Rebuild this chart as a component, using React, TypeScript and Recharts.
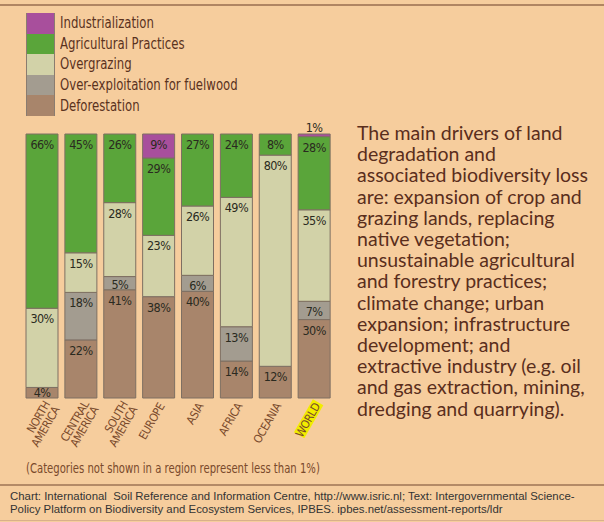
import React from "react";
import { BarChart, Bar, XAxis, YAxis, Legend, LabelList } from "recharts";

const regions = [
  "NORTH AMERICA",
  "CENTRAL AMERICA",
  "SOUTH AMERICA",
  "EUROPE",
  "ASIA",
  "AFRICA",
  "OCEANIA",
  "WORLD",
];
const deforestation = [4, 22, 41, 38, 40, 14, 12, 30];
const fuelwood = [0, 18, 5, 0, 6, 13, 0, 7];
const overgrazing = [30, 15, 28, 23, 26, 49, 80, 35];
const agricultural = [66, 45, 26, 29, 27, 24, 8, 28];
const industrialization = [0, 0, 0, 9, 0, 0, 0, 1];

const legendOrder = [
  "Industrialization",
  "Agricultural Practices",
  "Overgrazing",
  "Over-exploitation for fuelwood",
  "Deforestation",
];

const paragraph = [
  "The main drivers of land",
  "degradation and",
  "associated biodiversity loss",
  "are: expansion of crop and",
  "grazing lands, replacing",
  "native vegetation;",
  "unsustainable agricultural",
  "and forestry practices;",
  "climate change; urban",
  "expansion; infrastructure",
  "development; and",
  "extractive industry (e.g. oil",
  "and gas extraction, mining,",
  "dredging and quarrying).",
];

const data = regions.map((region, i) => ({
  region,
  deforestation: deforestation[i],
  fuelwood: fuelwood[i],
  overgrazing: overgrazing[i],
  agricultural: agricultural[i],
  industrialization: industrialization[i],
}));

const narrow = "'DejaVu Sans Condensed', 'Liberation Sans', sans-serif";
const bg = "#f6cd9d";
const barStroke = "#7e6f62";

const segLabel = (props: any) => {
  const { x, y, width, height, value } = props;
  const v = Array.isArray(value) ? value[1] - value[0] : Number(value);
  if (!v) return null;
  const cx = x + width / 2;
  const by = height < 8 ? y - 2 : y + Math.min(15, height - 1);
  return (
    <text
      x={cx}
      y={by}
      textAnchor="middle"
      fontSize={12.5}
      letterSpacing={-0.6}
      fill="#2a2a20"
      fontFamily={narrow}
    >
      {v}%
    </text>
  );
};

const RegionTick = (props: any) => {
  const { x, y, payload } = props;
  const lines = String(payload.value).split(" ");
  const two = lines.length > 1;
  const ax = x + (two ? 8 : 6);
  const ay = y + (two ? 6 : 8);
  const isWorld = payload.value === "WORLD";
  return (
    <g transform={`translate(${ax},${ay}) rotate(-60)`}>
      {isWorld && <rect x={-36} y={-10} width={38} height={12} fill="#f2ec00" />}
      {lines.map((l, i) => (
        <text
          key={i}
          x={0}
          y={i * 11}
          textAnchor="end"
          fontSize={11.5}
          letterSpacing={-0.4}
          fill="#7a4a2c"
          fontFamily={narrow}
        >
          {l}
        </text>
      ))}
    </g>
  );
};

const LegendBox = (props: any) => {
  const items = [...(props.payload || [])].sort(
    (a: any, b: any) => legendOrder.indexOf(a.value) - legendOrder.indexOf(b.value)
  );
  return (
    <div style={{ height: 121, paddingLeft: 3, boxSizing: "border-box" }}>
      {items.map((it: any) => (
        <div key={it.value} style={{ display: "flex", alignItems: "center", height: 20.6 }}>
          <div
            style={{
              width: 29,
              height: 20.6,
              background: it.color,
              borderLeft: "1px solid #8a7c70",
              borderRight: "1px solid #8a7c70",
              boxSizing: "border-box",
            }}
          />
          <span
            style={{
              marginLeft: 5,
              fontFamily: narrow,
              fontSize: 15.5,
              color: "#5a321e",
              lineHeight: "20px",
              display: "inline-block",
              whiteSpace: "nowrap",
              transform: "scaleX(0.84)",
              transformOrigin: "left center",
            }}
          >
            {it.value}
          </span>
        </div>
      ))}
    </div>
  );
};

export default function App() {
  return (
    <div
      style={{
        position: "absolute",
        left: 0,
        top: 0,
        width: 604,
        height: 522,
        background: bg,
        overflow: "hidden",
      }}
    >
      <div style={{ position: "absolute", left: 0, top: 4, width: 604, height: 2, background: "#b08562" }} />
      <div style={{ position: "absolute", left: 0, top: 0 }}>
        <BarChart
          width={340}
          height={480}
          data={data}
          stackOffset="expand"
          barSize={32}
          margin={{ top: 13, right: 6, bottom: 0, left: 23 }}
        >
          <XAxis
            dataKey="region"
            interval={0}
            axisLine={false}
            tickLine={false}
            tickSize={0}
            tickMargin={0}
            height={82}
            tick={<RegionTick />}
          />
          <YAxis hide domain={[0, 1]} />
          <Legend verticalAlign="top" align="left" content={<LegendBox />} />
          <Bar dataKey="deforestation" name="Deforestation" stackId="a" fill="#a8856b" stroke={barStroke} isAnimationActive={false}>
            <LabelList dataKey="deforestation" content={segLabel} />
          </Bar>
          <Bar dataKey="fuelwood" name="Over-exploitation for fuelwood" stackId="a" fill="#a39c90" stroke={barStroke} isAnimationActive={false}>
            <LabelList dataKey="fuelwood" content={segLabel} />
          </Bar>
          <Bar dataKey="overgrazing" name="Overgrazing" stackId="a" fill="#d2d2a8" stroke={barStroke} isAnimationActive={false}>
            <LabelList dataKey="overgrazing" content={segLabel} />
          </Bar>
          <Bar dataKey="agricultural" name="Agricultural Practices" stackId="a" fill="#5aa53a" stroke={barStroke} isAnimationActive={false}>
            <LabelList dataKey="agricultural" content={segLabel} />
          </Bar>
          <Bar dataKey="industrialization" name="Industrialization" stackId="a" fill="#a84f9c" stroke={barStroke} isAnimationActive={false}>
            <LabelList dataKey="industrialization" content={segLabel} />
          </Bar>
        </BarChart>
      </div>
      <div
        style={{
          position: "absolute",
          left: 26,
          top: 460,
          fontFamily: narrow,
          fontSize: 14,
          color: "#7a4a2c",
          whiteSpace: "nowrap",
          transform: "scaleX(0.8)",
          transformOrigin: "left center",
        }}
      >
        (Categories not shown in a region represent less than 1%)
      </div>
      <div
        style={{
          position: "absolute",
          left: 357,
          top: 122,
          fontFamily: "Lato, sans-serif",
          fontSize: 19.5,
          lineHeight: "21.2px",
          color: "#5a2e1c",
          whiteSpace: "nowrap",
        }}
      >
        {paragraph.map((l) => (
          <div key={l}>{l}</div>
        ))}
      </div>
      <div style={{ position: "absolute", left: 0, top: 484, width: 604, height: 2, background: "#b48a66" }} />
      <div
        style={{
          position: "absolute",
          left: 10,
          top: 490,
          fontFamily: "'Liberation Sans', Arial, sans-serif",
          fontSize: 11.4,
          lineHeight: "12.5px",
          color: "#333333",
          whiteSpace: "nowrap",
        }}
      >
        <div>Chart: International&nbsp; Soil Reference and Information Centre, http://www.isric.nl; Text: Intergovernmental Science-</div>
        <div>Policy Platform on Biodiversity and Ecosystem Services, IPBES. ipbes.net/assessment-reports/ldr</div>
      </div>
      <div style={{ position: "absolute", left: 0, top: 520, width: 604, height: 1, background: "#d9b08a" }} />
    </div>
  );
}
